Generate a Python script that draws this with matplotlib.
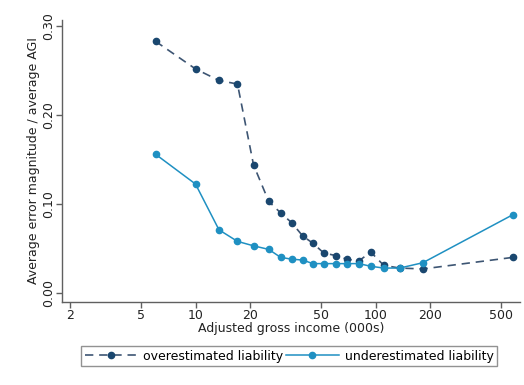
import numpy as np
import matplotlib
matplotlib.use('Agg')
import matplotlib.pyplot as plt

# income bins (000s)
agi = [6.0, 10.0, 13.5, 17.1, 21.0, 25.5, 29.7, 34.2, 39.4, 44.8,
       51.5, 60.1, 69.2, 80.7, 94.0, 111, 136, 183, 578]
over = [0.283, 0.252, 0.239, 0.235, 0.144, 0.103, 0.090, 0.079, 0.064, 0.056,
        0.045, 0.042, 0.038, 0.036, 0.046, 0.031, 0.028, 0.027, 0.040]
under = [0.156, 0.1225, 0.071, 0.058, 0.053, 0.049, 0.040, 0.038, 0.037, 0.033,
         0.033, 0.033, 0.033, 0.033, 0.030, 0.028, 0.028, 0.034, 0.088]
xticks = [2, 5, 10, 20, 50, 100, 200, 500]
yticks = [0.0, 0.1, 0.2, 0.3]

navy = '#1a476f'
cyan = '#1f90c2'
gray = '#606060'

plt.rcParams['font.family'] = 'DejaVu Sans'
fs = 9

fig = plt.figure(figsize=(5.24, 3.85), dpi=100)
ax = fig.add_axes([0.118, 0.216, 0.874, 0.732])

ax.plot(agi, over, color='#3d5573', lw=1.2, ls=(0, (5, 3.5)),
        marker='o', ms=4.5, mfc=navy, mec=navy, label='overestimated liability')
ax.plot(agi, under, color=cyan, lw=1.1, marker='o', ms=4.5,
        mfc=cyan, mec=cyan, label='underestimated liability')

ax.set_xscale('log')
ax.set_xlim(1.81, 632)
ax.set_ylim(-0.010, 0.307)
ax.set_xticks(xticks)
ax.set_xticklabels([str(t) for t in xticks], fontsize=fs)
ax.xaxis.set_minor_locator(matplotlib.ticker.NullLocator())
ax.set_yticks(yticks)
ax.set_yticklabels(['%.2f' % t for t in yticks], fontsize=fs, rotation=90, va='center')

for s in ['top', 'right']:
    ax.spines[s].set_visible(False)
for s in ['left', 'bottom']:
    ax.spines[s].set_color(gray)
    ax.spines[s].set_linewidth(1.0)
ax.tick_params(colors=gray, labelcolor='#222222', length=4, width=1.0, pad=1)

ax.set_xlabel('Adjusted gross income (000s)', fontsize=fs, color='#222222', labelpad=0)
ax.set_ylabel('Average error magnitude / average AGI', fontsize=fs, color='#222222', labelpad=1)

leg = fig.legend(loc='center', bbox_to_anchor=(0.552, 0.075), ncol=2, fontsize=fs,
                 frameon=True, fancybox=False, handlelength=4.2, columnspacing=0.2,
                 handletextpad=0.5, borderpad=0.3)
leg.get_frame().set_edgecolor('#777777')
leg.get_frame().set_linewidth(1.0)

fig.savefig('out.png', dpi=100)
